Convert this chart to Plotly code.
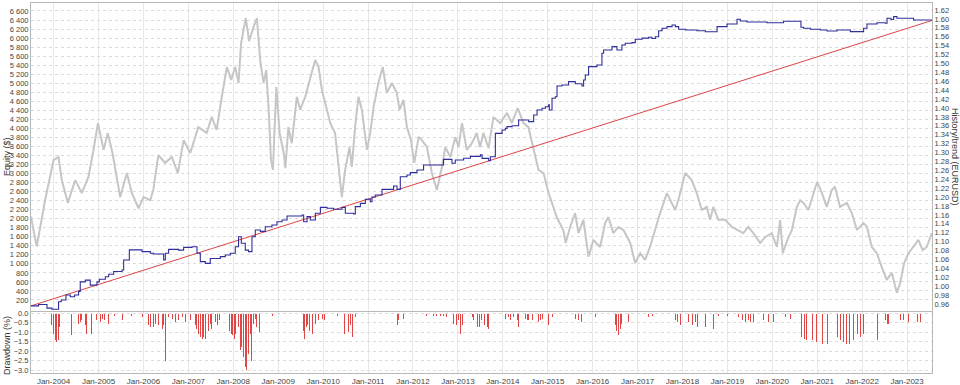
import pandas as pd
import plotly.graph_objects as go

# ---------------- data ----------------
# EURUSD history (right axis)
gray_dates = ["2003-07-01","2003-07-20","2003-08-17","2003-10-24","2004-01-01","2004-02-10","2004-03-08","2004-04-26","2004-06-25","2004-08-18","2004-10-11","2004-11-21","2004-12-27","2005-02-11","2005-03-17","2005-04-24","2005-06-26","2005-08-19","2005-09-29","2005-11-22","2006-01-02","2006-02-26","2006-03-22","2006-05-02","2006-06-26","2006-08-19","2006-10-08","2006-11-23","2007-01-16","2007-03-23","2007-05-30","2007-07-10","2007-08-19","2007-09-30","2007-11-10","2007-12-15","2008-01-17","2008-02-13","2008-03-05","2008-04-12","2008-05-09","2008-06-14","2008-07-11","2008-08-08","2008-09-04","2008-09-25","2008-10-14","2008-11-03","2008-11-19","2008-12-16","2009-01-12","2009-02-14","2009-02-28","2009-03-24","2009-04-21","2009-06-01","2009-06-28","2009-08-08","2009-09-18","2009-10-28","2009-11-25","2009-12-22","2010-01-18","2010-02-28","2010-04-08","2010-05-05","2010-06-02","2010-06-29","2010-08-03","2010-08-22","2010-09-18","2010-10-15","2010-11-12","2010-12-23","2011-01-19","2011-02-15","2011-03-26","2011-05-01","2011-06-03","2011-07-13","2011-08-23","2011-09-14","2011-10-16","2011-11-13","2011-12-16","2012-01-12","2012-02-16","2012-03-14","2012-04-24","2012-06-03","2012-07-14","2012-08-24","2012-09-20","2012-11-01","2012-12-11","2013-01-06","2013-02-03","2013-03-14","2013-04-24","2013-06-03","2013-06-30","2013-07-27","2013-09-07","2013-10-17","2013-12-11","2014-02-04","2014-03-15","2014-05-02","2014-06-17","2014-07-28","2014-09-08","2014-10-18","2014-11-28","2015-01-08","2015-03-15","2015-05-08","2015-05-27","2015-07-02","2015-08-12","2015-09-08","2015-10-18","2015-11-29","2016-01-08","2016-03-02","2016-04-12","2016-05-08","2016-06-18","2016-07-28","2016-09-08","2016-11-02","2016-12-12","2017-01-22","2017-03-03","2017-04-12","2017-05-23","2017-07-03","2017-08-27","2017-10-06","2017-11-03","2017-12-05","2018-01-23","2018-03-17","2018-04-27","2018-06-07","2018-07-17","2018-08-13","2018-09-09","2018-10-20","2018-12-14","2019-02-07","2019-03-30","2019-05-10","2019-06-20","2019-07-31","2019-09-24","2019-11-04","2019-12-28","2020-02-08","2020-03-05","2020-03-26","2020-05-03","2020-06-08","2020-07-19","2020-08-15","2020-09-11","2020-10-21","2020-12-02","2020-12-30","2021-02-08","2021-03-19","2021-04-29","2021-05-25","2021-07-05","2021-08-29","2021-10-09","2021-11-19","2022-01-12","2022-02-09","2022-03-20","2022-04-30","2022-06-09","2022-07-20","2022-08-30","2022-10-10","2022-11-06","2022-12-08","2023-01-13","2023-02-23","2023-04-03","2023-05-08","2023-06-10","2023-07-21"]
gray_values = [1.156,1.126,1.089,1.193,1.283,1.290,1.238,1.187,1.238,1.209,1.246,1.306,1.366,1.306,1.344,1.299,1.200,1.254,1.209,1.175,1.200,1.193,1.216,1.294,1.277,1.290,1.254,1.328,1.299,1.357,1.344,1.380,1.351,1.425,1.492,1.463,1.492,1.456,1.546,1.602,1.550,1.582,1.602,1.505,1.456,1.485,1.402,1.283,1.261,1.447,1.344,1.299,1.265,1.357,1.321,1.425,1.396,1.425,1.470,1.508,1.492,1.440,1.411,1.366,1.344,1.277,1.200,1.261,1.312,1.268,1.357,1.425,1.396,1.306,1.344,1.402,1.456,1.492,1.434,1.456,1.434,1.396,1.418,1.357,1.328,1.277,1.335,1.328,1.312,1.254,1.216,1.268,1.312,1.290,1.335,1.312,1.366,1.306,1.321,1.344,1.312,1.344,1.310,1.380,1.366,1.389,1.366,1.400,1.366,1.357,1.306,1.261,1.254,1.209,1.155,1.126,1.097,1.133,1.164,1.119,1.149,1.066,1.104,1.088,1.142,1.155,1.119,1.133,1.126,1.097,1.052,1.074,1.059,1.088,1.126,1.164,1.209,1.187,1.171,1.200,1.254,1.238,1.209,1.171,1.178,1.149,1.178,1.149,1.149,1.133,1.126,1.119,1.133,1.119,1.097,1.110,1.119,1.088,1.149,1.074,1.104,1.126,1.178,1.193,1.187,1.171,1.209,1.234,1.209,1.178,1.216,1.223,1.178,1.187,1.164,1.126,1.142,1.133,1.088,1.074,1.043,1.014,1.030,0.985,1.007,1.052,1.074,1.088,1.104,1.081,1.088,1.119]

# Equity (left axis), dates as decimal years
equity_t = [2003.497,2003.666,2003.853,2003.964,2004.111,2004.171,2004.276,2004.372,2004.468,2004.557,2004.594,2004.706,2004.817,2004.966,2005.017,2005.151,2005.224,2005.336,2005.523,2005.558,2005.685,2005.968,2006.153,2006.226,2006.449,2006.487,2006.560,2006.783,2006.894,2007.081,2007.192,2007.266,2007.377,2007.488,2007.711,2007.822,2007.934,2008.045,2008.118,2008.179,2008.268,2008.341,2008.417,2008.490,2008.602,2008.713,2008.862,2008.973,2009.085,2009.196,2009.530,2009.566,2009.641,2009.715,2009.826,2009.938,2010.087,2010.233,2010.420,2010.494,2010.679,2010.716,2010.828,2010.939,2011.051,2011.088,2011.162,2011.311,2011.569,2011.645,2011.718,2011.867,2011.941,2012.090,2012.237,2012.682,2012.869,2012.943,2013.127,2013.277,2013.499,2013.537,2013.684,2013.722,2013.833,2013.982,2014.056,2014.094,2014.205,2014.352,2014.575,2014.686,2014.762,2014.873,2014.947,2015.020,2015.036,2015.096,2015.169,2015.207,2015.318,2015.465,2015.614,2015.763,2015.799,2015.837,2015.910,2016.097,2016.208,2016.244,2016.431,2016.542,2016.654,2016.727,2016.876,2016.950,2017.099,2017.246,2017.321,2017.395,2017.468,2017.544,2017.655,2017.767,2017.840,2017.913,2018.063,2018.323,2018.508,2018.769,2018.992,2019.214,2019.288,2019.437,2019.882,2020.251,2020.638,2020.696,2020.846,2021.068,2021.217,2021.440,2021.736,2022.032,2022.107,2022.330,2022.515,2022.553,2022.642,2022.700,2022.775,2023.145,2023.555]
equity_v = [70,100,20,-5,160,200,310,270,310,390,600,640,530,600,660,715,770,830,865,1085,1310,1270,1235,1220,1085,1235,1320,1305,1365,1380,1235,1050,1010,1120,1160,1195,1235,1380,1600,1455,1305,1270,1600,1750,1720,1823,1860,1933,1971,2060,2082,1933,2045,1971,2120,2252,2230,2208,2252,2120,2105,2267,2340,2430,2377,2480,2525,2650,2724,2650,2930,2968,3020,3080,3190,3315,3227,3300,3340,3380,3415,3337,3285,3373,3890,3965,4000,4040,4060,4185,4150,4297,4407,4445,4480,4520,4407,4666,4700,4940,4960,5035,4990,4940,5072,5183,5367,5404,5663,5736,5810,5736,5847,5884,5900,5973,6000,6018,5990,6030,6163,6217,6253,6290,6253,6195,6180,6163,6140,6253,6312,6416,6380,6356,6341,6372,6239,6217,6195,6180,6157,6180,6142,6217,6312,6341,6330,6438,6410,6475,6438,6400,6395]

# Linear trend line (left axis)
trend_t = [2003.497, 2023.555]
trend_v = [70, 6390]

# Drawdown (%)
dd_t = [2003.964,2004.000,2004.038,2004.076,2004.111,2004.134,2004.410,2004.557,2004.594,2004.632,2004.706,2004.744,2004.839,2004.966,2005.040,2005.091,2005.135,2005.224,2005.358,2005.523,2005.730,2005.968,2006.115,2006.153,2006.226,2006.264,2006.337,2006.413,2006.449,2006.487,2006.560,2006.636,2006.709,2006.783,2006.858,2006.932,2007.043,2007.155,2007.192,2007.228,2007.266,2007.304,2007.339,2007.377,2007.415,2007.451,2007.488,2007.526,2007.600,2007.638,2007.689,2007.749,2007.911,2007.956,2007.985,2008.029,2008.061,2008.118,2008.156,2008.194,2008.229,2008.268,2008.305,2008.341,2008.379,2008.417,2008.452,2008.490,2008.512,2008.586,2008.884,2009.566,2009.588,2009.626,2009.655,2009.699,2009.753,2009.826,2009.899,2009.975,2010.026,2010.309,2010.472,2010.567,2010.605,2010.643,2010.716,2011.066,2011.645,2011.680,2011.756,2011.792,2012.313,2012.459,2012.535,2012.609,2012.682,2012.758,2012.905,2012.980,2013.016,2013.054,2013.092,2013.314,2013.350,2013.426,2013.470,2013.520,2013.595,2013.648,2013.684,2014.056,2014.129,2014.167,2014.240,2014.316,2014.352,2014.501,2014.539,2014.575,2014.650,2014.797,2014.835,2014.873,2015.020,2015.096,2015.614,2015.687,2015.763,2016.059,2016.504,2016.542,2016.578,2016.616,2016.654,2016.800,2017.246,2017.321,2017.840,2017.878,2017.951,2018.136,2018.212,2018.285,2018.323,2018.508,2018.693,2018.804,2018.992,2019.250,2019.326,2019.399,2019.473,2019.510,2019.584,2019.793,2019.918,2020.029,2020.290,2020.401,2020.661,2020.712,2020.772,2020.906,2020.995,2021.106,2021.217,2021.440,2021.514,2021.573,2021.647,2021.721,2021.810,2021.886,2021.959,2022.032,2022.107,2022.330,2022.515,2022.553,2022.589,2022.775,2022.850,2022.924,2023.036,2023.223,2023.297]
dd_v = [-0.61,-1.05,-1.40,-1.49,-1.40,-0.70,-1.14,-0.53,-0.44,-0.35,-0.61,-1.05,-1.05,-0.35,-0.44,-0.26,-0.35,-0.53,-0.09,-0.35,-0.09,-0.18,-0.61,-0.70,-0.70,-0.53,-0.61,-0.79,-0.61,-2.46,-0.18,-0.26,-0.44,-0.35,-0.18,-0.44,-0.35,-0.61,-0.79,-1.05,-1.23,-1.32,-1.23,-1.32,-1.14,-0.88,-0.53,-0.79,-0.44,-0.61,-0.35,-0.18,-0.88,-1.05,-1.14,-1.32,-1.05,-0.70,-1.93,-1.75,-2.28,-2.81,-2.98,-2.11,-1.05,-2.50,-0.53,-0.26,-0.70,-0.96,-0.09,-0.88,-1.32,-0.70,-0.61,-0.88,-1.05,-0.53,-0.35,-0.26,-0.35,-0.14,-1.05,-0.96,-0.61,-1.23,-0.18,-0.44,-0.61,-0.35,-0.44,-0.26,-0.14,-0.14,-0.14,-0.14,-0.14,-0.18,-0.53,-0.61,-0.35,-1.05,-0.61,-0.18,-0.35,-0.70,-0.70,-0.35,-0.61,-0.70,-0.79,-0.26,-0.18,-0.35,-0.18,-0.35,-0.70,-0.26,-0.35,-0.32,-0.35,-0.44,-0.35,-0.26,-0.61,-0.18,-0.26,-0.35,-0.44,-0.18,-0.61,-0.88,-1.14,-0.79,-0.53,-0.44,-0.18,-0.09,-0.35,-0.44,-0.61,-0.44,-0.61,-0.44,-0.70,-0.70,-0.79,-0.09,-0.09,-0.18,-0.35,-0.44,-0.35,-0.44,-0.44,-0.35,-0.44,-0.44,-0.18,-0.26,-1.23,-1.32,-1.40,-1.40,-1.49,-1.58,-1.58,-1.23,-1.40,-1.49,-1.58,-1.58,-1.40,-1.05,-1.23,-1.05,-0.70,-1.40,-0.35,-0.53,-0.53,-0.26,-0.35,-0.35,-0.44,-0.44,-0.44]

# Equity axis tick values (the 0 label is hidden by the drawdown "0.0")
equity_ticks = list(range(200, 6601, 200))

assert len(gray_dates) == len(gray_values)
assert len(equity_t) == len(equity_v), (len(equity_t), len(equity_v))
assert len(dd_t) == len(dd_v), (len(dd_t), len(dd_v))

X_START, X_END = 2003.497, 2023.555


def to_date(v):
    y = int(v)
    return pd.Timestamp(year=y, month=1, day=1) + pd.Timedelta(days=(v - y) * 365.25)


eq_x = [to_date(v) for v in equity_t]
tr_x = [to_date(v) for v in trend_t]
dd_x = [to_date(v) for v in dd_t]

FONT = "Liberation Sans, Arial, sans-serif"
TICKC = "#444444"
LINEC = "#b8b8b8"
GRIDC = "#dcdcdc"

fig = go.Figure()

fig.add_trace(go.Scatter(x=pd.to_datetime(gray_dates), y=gray_values, mode="lines",
                         line=dict(color="#c6c6c6", width=2.0), yaxis="y", xaxis="x",
                         hoverinfo="skip"))
fig.add_trace(go.Scatter(x=tr_x, y=trend_v, mode="lines",
                         line=dict(color="#dd4444", width=1), yaxis="y2", xaxis="x"))
fig.add_trace(go.Scatter(x=eq_x, y=equity_v, mode="lines", line_shape="hv",
                         line=dict(color="#2d2d9c", width=1.1), yaxis="y2", xaxis="x"))
fig.add_trace(go.Bar(x=dd_x, y=dd_v, width=8 * 86400000,
                     marker=dict(color="rgba(222,50,50,0.9)", line=dict(width=0)),
                     yaxis="y3", xaxis="x2"))

x_range = [to_date(X_START), to_date(X_END)]
common_x = dict(type="date", range=x_range, showgrid=True, gridcolor="#e8e8e8", gridwidth=1,
                tick0="2004-01-01", dtick="M12", showline=True, linecolor=LINEC,
                mirror=True, zeroline=False, ticks="", automargin=False)

fig.update_layout(
    template="none",
    width=960, height=385,
    margin=dict(l=31, r=28, t=3, b=12, pad=0),
    paper_bgcolor="white", plot_bgcolor="white",
    showlegend=False, separators=". ",
    font=dict(family=FONT, size=8, color=TICKC),
    bargap=0,
    xaxis=dict(**common_x, anchor="y", showticklabels=False, domain=[0, 1]),
    xaxis2=dict(**common_x, anchor="y3", matches="x", tickformat="%b-%Y",
                tickfont=dict(size=8, color=TICKC)),
    yaxis=dict(domain=[0.1689, 1], side="right", range=[0.9454, 1.6357], dtick=0.02,
               tick0=0.96, tickformat=".2f", showgrid=False, zeroline=False,
               showline=True, linecolor=LINEC, tickfont=dict(size=7.5, color=TICKC),
               ticks="", anchor="x", automargin=False),
    yaxis2=dict(overlaying="y", side="left", range=[-33, 6777], tickmode="array",
                tickvals=equity_ticks,
                tickformat=",d", showgrid=True, gridcolor=GRIDC, griddash="dot",
                zeroline=False, showline=True, linecolor=LINEC,
                tickfont=dict(size=7.5, color=TICKC), ticks="", anchor="x", automargin=False),
    yaxis3=dict(domain=[0, 0.1662], range=[-3.142, 0.095], dtick=0.5, tick0=0,
                tickformat=".1f", showgrid=True, gridcolor=GRIDC, griddash="dot",
                zeroline=False, showline=True, linecolor=LINEC, mirror=True,
                tickfont=dict(size=7.5, color=TICKC), ticks="", anchor="x2", automargin=False),
    annotations=[
        dict(text="Equity ($)", xref="paper", yref="paper", x=-0.0266, y=0.584,
             xanchor="center", yanchor="middle",
             textangle=-90, showarrow=False, font=dict(size=9, color="#333333", family=FONT)),
        dict(text="Drawdown (%)", xref="paper", yref="paper", x=-0.0266, y=0.073,
             xanchor="center", yanchor="middle",
             textangle=-90, showarrow=False, font=dict(size=9, color="#333333", family=FONT)),
        dict(text="History/trend (EURUSD)", xref="paper", yref="paper", x=1.0255, y=0.584,
             xanchor="center", yanchor="middle",
             textangle=90, showarrow=False, font=dict(size=9, color="#333333", family=FONT)),
    ],
)

fig.write_html("out.html", config={"displayModeBar": False},
               post_script="document.body.style.margin='0px';document.body.style.overflow='hidden';")
